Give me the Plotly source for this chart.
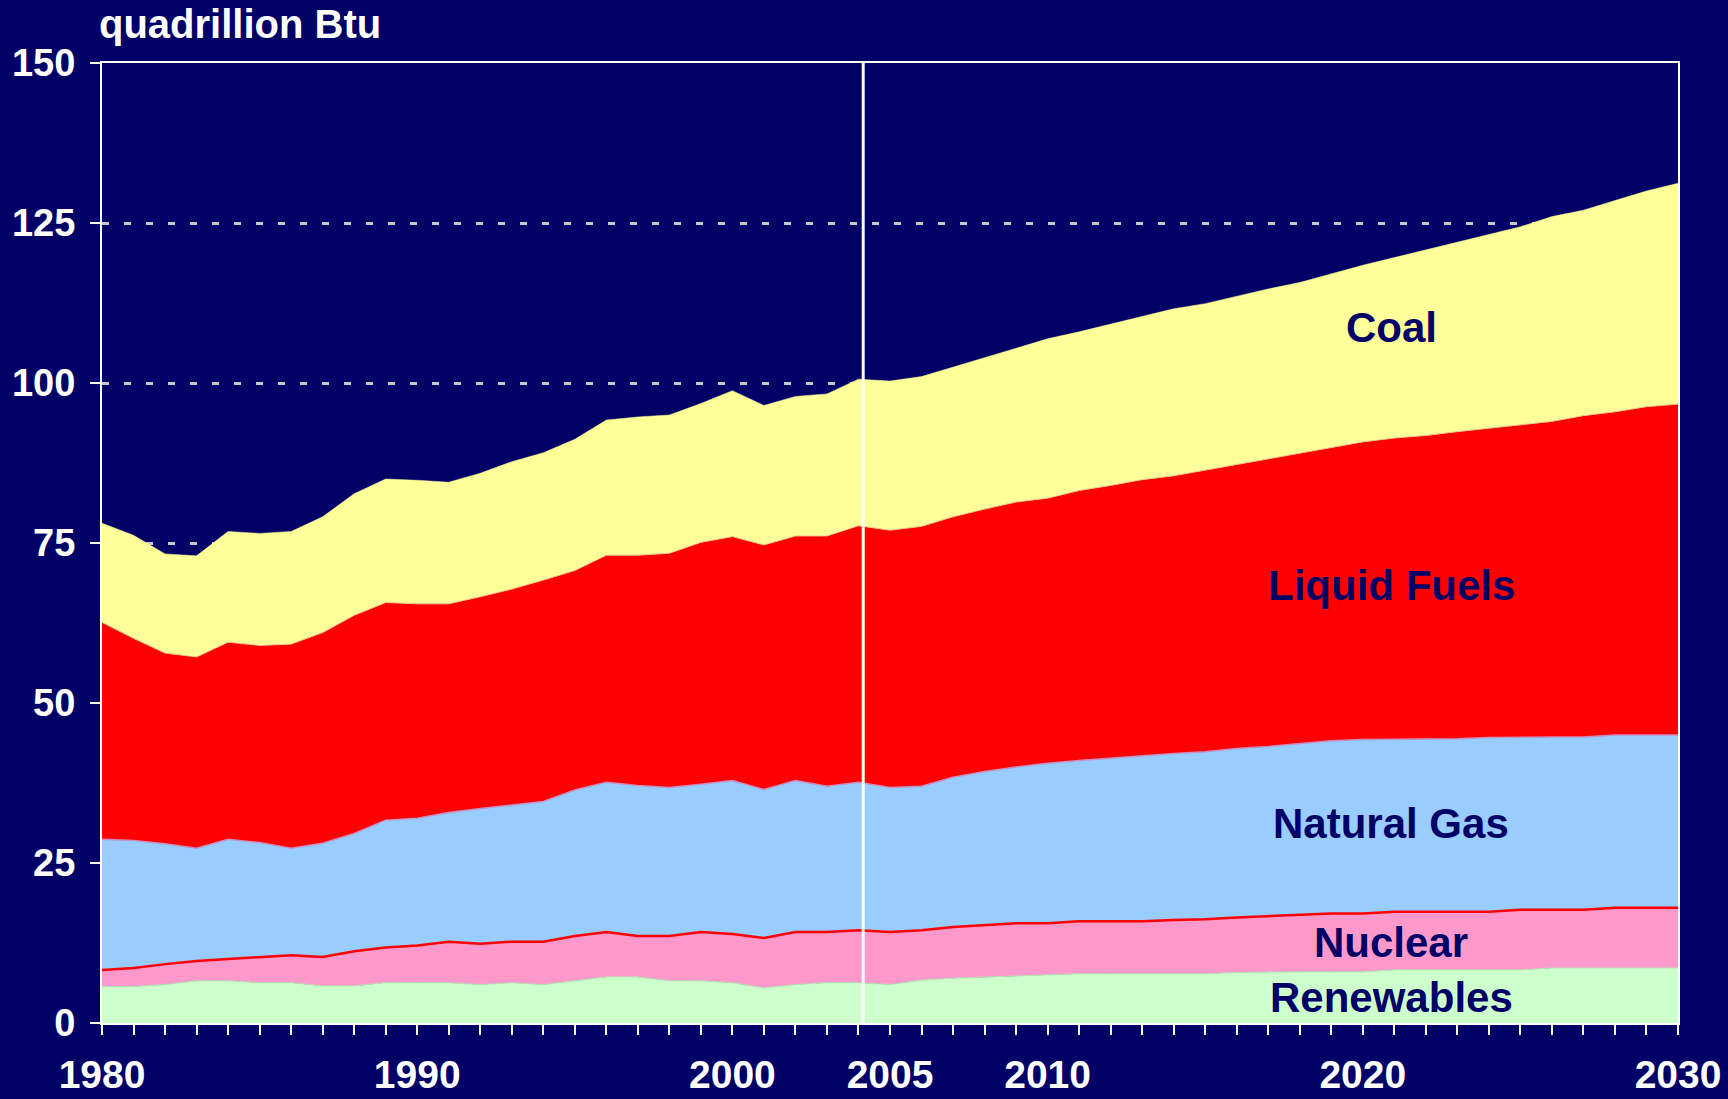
import plotly.graph_objects as go

years = list(range(1980, 2031))

renewables = [5.7, 5.7, 6.0, 6.6, 6.6, 6.3, 6.3, 5.8, 5.8, 6.3,
              6.3, 6.3, 6.0, 6.3, 6.0, 6.6, 7.2, 7.2, 6.6, 6.6,
              6.3, 5.5, 6.0, 6.3, 6.3, 6.0, 6.7, 7.0, 7.2, 7.4,
              7.5, 7.7, 7.7, 7.7, 7.7, 7.7, 7.9, 8.0, 8.0, 8.0,
              8.0, 8.3, 8.3, 8.3, 8.3, 8.3, 8.6, 8.6, 8.6, 8.6,
              8.6]
nuclear = [2.6, 2.9, 3.2, 3.1, 3.4, 4.0, 4.3, 4.5, 5.4, 5.5,
           5.8, 6.4, 6.4, 6.4, 6.7, 7.0, 7.0, 6.4, 7.0, 7.6,
           7.6, 7.8, 8.2, 7.9, 8.2, 8.2, 7.8, 8.0, 8.1, 8.2,
           8.1, 8.2, 8.2, 8.2, 8.4, 8.5, 8.6, 8.7, 9.0, 9.1,
           9.1, 9.1, 9.1, 9.1, 9.1, 9.4, 9.1, 9.1, 9.4, 9.4,
           9.4]
natural_gas = [20.4, 19.9, 18.8, 17.6, 18.7, 17.9, 16.7, 17.8, 18.4, 19.9,
               19.9, 20.2, 21.1, 21.4, 21.9, 22.8, 23.4, 23.5, 23.2, 23.1,
               24.0, 23.2, 23.7, 22.8, 23.1, 22.6, 22.5, 23.4, 24.0, 24.4,
               25.0, 25.1, 25.5, 25.9, 26.0, 26.2, 26.4, 26.5, 26.6, 27.0,
               27.2, 26.9, 26.9, 27.0, 27.2, 27.0, 27.0, 27.0, 27.0, 27.0,
               27.0]
liquid_fuels = [33.9, 31.6, 29.8, 29.9, 30.8, 30.8, 31.9, 32.9, 34.1, 34.0,
                33.5, 32.6, 33.1, 33.7, 34.6, 34.3, 35.5, 36.0, 36.6, 37.8,
                38.1, 38.2, 38.2, 39.1, 40.1, 40.2, 40.6, 40.7, 41.0, 41.4,
                41.4, 42.2, 42.6, 43.1, 43.4, 44.0, 44.3, 45.0, 45.4, 45.8,
                46.5, 47.1, 47.5, 48.0, 48.3, 48.7, 49.3, 50.2, 50.5, 51.3,
                51.7]
coal = [15.5, 16.1, 15.5, 15.8, 17.3, 17.5, 17.6, 18.1, 19.0, 19.3,
        19.3, 19.0, 19.3, 19.9, 19.9, 20.5, 21.1, 21.6, 21.6, 21.7,
        22.8, 21.8, 21.8, 22.2, 22.9, 23.3, 23.4, 23.4, 23.7, 24.0,
        24.9, 24.8, 25.2, 25.5, 26.1, 26.0, 26.4, 26.5, 26.7, 27.2,
        27.6, 28.2, 29.0, 29.6, 30.2, 31.0, 32.0, 32.1, 33.0, 33.7,
        34.5]

x_label_years = [1980, 1990, 2000, 2005, 2010, 2020, 2030]
y_tick_values = [0, 25, 50, 75, 100, 125, 150]
history_end = 2004.15

series = [
    ("Renewables", renewables, "#CCFFCC", "#B8E6B8", 1.0),
    ("Nuclear", nuclear, "#FF99CC", "#FF0000", 2.5),
    ("Natural Gas", natural_gas, "#99CCFF", "#C890C0", 1.5),
    ("Liquid Fuels", liquid_fuels, "#FF0000", "#F0C890", 1.0),
    ("Coal", coal, "#FFFF99", "#FFFF99", 0.5),
]

label_pos = {
    "Coal": (2020.9, 108.6),
    "Liquid Fuels": (2020.9, 68.4),
    "Natural Gas": (2020.9, 31.1),
    "Nuclear": (2020.9, 12.6),
    "Renewables": (2020.9, 4.0),
}

BG = "#000066"
FONT = "Liberation Sans, Arial, sans-serif"

fig = go.Figure()
for name, vals, fill, line, lw in series:
    fig.add_trace(go.Scatter(
        x=years, y=vals, name=name, mode="lines",
        stackgroup="one", fillcolor=fill,
        line=dict(color=line, width=lw),
        hoverinfo="x+y+name",
    ))

ticktext = [str(y) if y in x_label_years else "" for y in years]

fig.update_layout(
    width=1728, height=1099,
    margin=dict(l=102, r=50, t=63, b=76, pad=0),
    paper_bgcolor=BG, plot_bgcolor=BG,
    showlegend=False,
    font=dict(family=FONT, color="white"),
    xaxis=dict(
        range=[1980, 2030], tickmode="array", tickvals=years, ticktext=ticktext,
        showgrid=False, zeroline=False, automargin=False,
        showline=True, linecolor="white", linewidth=2, mirror=True,
        ticks="outside", ticklen=10, tickwidth=2, tickcolor="white",
        tickfont=dict(family=FONT, size=39, color="white", weight="bold"),
        ticklabelstandoff=6,
    ),
    yaxis=dict(
        range=[0, 150], tickmode="array", tickvals=y_tick_values,
        showgrid=True, gridcolor="#C8C8C8", gridwidth=3, griddash="7px,15px",
        zeroline=False, automargin=False,
        showline=True, linecolor="white", linewidth=2, mirror=True,
        ticks="outside", ticklen=10, tickwidth=2, tickcolor="white",
        tickfont=dict(family=FONT, size=38, color="white", weight="bold"),
        ticklabelstandoff=7,
    ),
)

fig.add_shape(type="line", xref="x", yref="paper", x0=history_end, x1=history_end,
              y0=0, y1=1, line=dict(color="white", width=3), layer="above")

for name, (lx, ly) in label_pos.items():
    fig.add_annotation(x=lx, y=ly, xref="x", yref="y", text=name, showarrow=False,
                       font=dict(family=FONT, size=42, color=BG, weight="bold"),
                       xanchor="center", yanchor="middle")

fig.add_annotation(x=-0.003, y=1.0406, xref="paper", yref="paper", text="quadrillion Btu",
                   showarrow=False, xanchor="left", yanchor="middle",
                   font=dict(family=FONT, size=40, color="white", weight="bold"))

fig.write_html("out.html", config={"displayModeBar": False},
               post_script="document.body.style.margin='0';document.body.style.overflow='hidden';")
